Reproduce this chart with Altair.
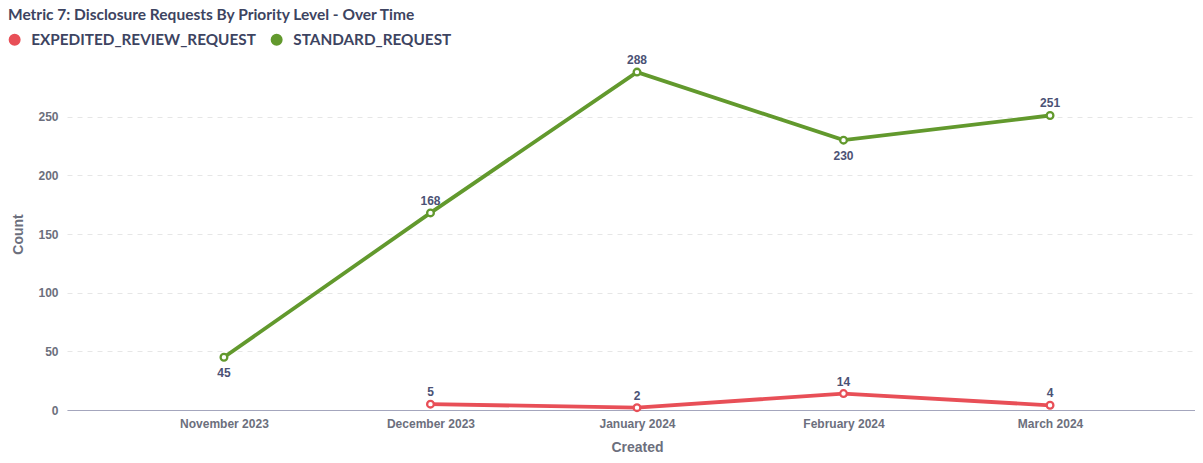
import altair as alt
import pandas as pd

months = ["November 2023", "December 2023", "January 2024", "February 2024", "March 2024"]
series_names = ["EXPEDITED_REVIEW_REQUEST", "STANDARD_REQUEST"]
expedited = [None, 5, 2, 14, 4]
standard = [45, 168, 288, 230, 251]
series_colors = ["#e84f57", "#62992d"]
y_ticks = [0, 50, 100, 150, 200, 250]

rows = []
for name, vals in zip(series_names, [expedited, standard]):
    for i, (m, v) in enumerate(zip(months, vals)):
        if v is None:
            continue
        prev_v = vals[i - 1] if i > 0 and vals[i - 1] is not None else None
        next_v = vals[i + 1] if i < len(vals) - 1 else None
        local_min = (prev_v is None or v < prev_v) and (next_v is None or v < next_v)
        below = bool(name == "STANDARD_REQUEST" and local_min)
        rows.append({"Created": m, "Series": name, "Count": v, "below": below})
df = pd.DataFrame(rows)

TEXT = "#3d4461"
AXIS = "#6c6f7d"
LABEL = "#4b5275"

x_enc = alt.X(
    "Created:N",
    sort=months,
    scale=alt.Scale(type="point", padding=0.76, range=[0, 1140]),
    axis=alt.Axis(
        title="Created", labelAngle=0, ticks=False, domainColor="#a4a6bd",
        domainWidth=1, labelPadding=8, labelFont="Liberation Sans",
        labelFontWeight="bold", labelFontSize=12, labelColor=AXIS,
        titleFont="Liberation Sans", titleFontWeight="bold", titleFontSize=14,
        titleColor=AXIS, titleY=37, titleBaseline="middle", grid=False,
    ),
)
y_enc = alt.Y(
    "Count:Q",
    scale=alt.Scale(domain=[0, 300], nice=False),
    axis=alt.Axis(
        title="Count", values=y_ticks, domain=False, ticks=False, labelPadding=9,
        labelFont="Liberation Sans", labelFontWeight="bold", labelFontSize=12,
        labelColor=AXIS, titleFont="Liberation Sans", titleFontWeight="bold",
        titleFontSize=14, titleColor=AXIS, titleX=-49, titleY=176,
        titleAngle=-90, titleBaseline="middle", titleAlign="center",
        gridColor="#e6e6e6", gridDash=[5, 5], gridWidth=1,
    ),
)
color_scale = alt.Scale(domain=series_names, range=series_colors)

base = alt.Chart(df)

legend_layer = base.mark_circle(size=100, opacity=1).encode(
    x=x_enc, y=y_enc,
    color=alt.Color("Series:N", scale=color_scale, legend=alt.Legend(
        title=None, orient="none", direction="horizontal", legendX=-60, legendY=-26,
        symbolType="circle", symbolSize=110, labelFont="Lato", labelFontSize=15.3,
        labelFontWeight="bold", labelColor=TEXT, columnPadding=12, symbolOffset=0,
        labelOffset=9, labelLimit=500,
    )),
).transform_filter("false")

line = base.mark_line(strokeWidth=3.8).encode(
    x=x_enc, y=y_enc,
    color=alt.Color("Series:N", scale=color_scale, legend=None),
)
pts = base.mark_point(filled=False, fill="white", fillOpacity=1, size=45,
                      strokeWidth=2.3, opacity=1, shape="circle").encode(
    x=x_enc, y=y_enc,
    color=alt.Color("Series:N", scale=color_scale, legend=None),
)
lab_above = base.mark_text(dy=-12, font="Liberation Sans", fontWeight="bold",
                           fontSize=12, color=LABEL).encode(
    x=x_enc, y=y_enc, text="Count:Q"
).transform_filter("!datum.below")
lab_below = base.mark_text(dy=16, font="Liberation Sans", fontWeight="bold",
                           fontSize=12, color=LABEL).encode(
    x=x_enc, y=y_enc, text="Count:Q"
).transform_filter("datum.below")

chart = alt.layer(legend_layer, line, pts, lab_above, lab_below).properties(
    width=1128, height=352,
    autosize=alt.AutoSizeParams(type="none"),
    padding={"left": 59, "top": 50, "right": 0, "bottom": 45},
    title=alt.TitleParams(
        "Metric 7: Disclosure Requests By Priority Level - Over Time",
        anchor="start", frame="group", dx=-59, dy=4, offset=1, baseline="alphabetic",
        font="Lato", fontSize=15.5, fontWeight="bold", color=TEXT,
    ),
).configure_view(stroke=None)

chart.save("out.html", embed_options={"renderer": "svg", "actions": False})
